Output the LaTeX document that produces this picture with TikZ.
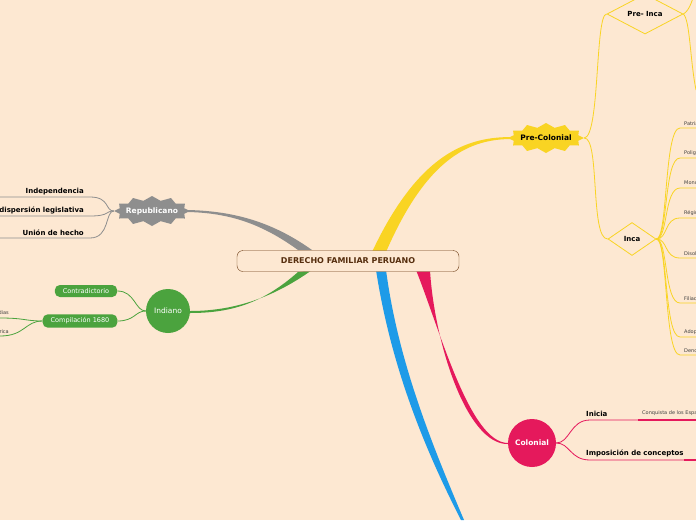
\documentclass[tikz,border=0pt]{standalone}
\usepackage{fontspec}
\setmainfont{DejaVu Sans}
\usetikzlibrary{shapes.geometric}
\definecolor{bg}{HTML}{FDE8D2}
\definecolor{yel}{HTML}{F9D423}
\definecolor{gry}{HTML}{8E8E8E}
\definecolor{grn}{HTML}{4BA33E}
\definecolor{red}{HTML}{E5195C}
\definecolor{blu}{HTML}{1E9BE8}
\definecolor{brn}{HTML}{6B3A12}
\tikzset{x=1pt,y=-1pt,
 lbl/.style={font=\bfseries\fontsize{7}{8}\selectfont,inner sep=1pt},
 sm/.style={font=\fontsize{5}{6}\selectfont,text=black!75,inner sep=1pt,anchor=south west},
 burst/.style={inner sep=0pt,minimum width=76pt,minimum height=30pt,font=\bfseries\fontsize{7.5}{8}\selectfont},
 dia/.style={diamond,draw=yel,fill=bg,line width=0.8pt,aspect=1.9,inner sep=1pt,font=\bfseries\fontsize{7}{8}\selectfont},
 pill/.style={rounded corners=5pt,fill=grn,text=white,font=\fontsize{6.5}{7}\selectfont,minimum height=12pt,inner xsep=8pt}}
\newcommand{\zigburst}[3]{\fill[#1] plot[samples=24,domain=0:23] ({#2+38*(1-0.12*mod(\x,2))*cos(\x*15)},{#3+15*(1-0.3*mod(\x,2))*sin(\x*15)}) -- cycle;}
\begin{document}
\begin{tikzpicture}
\fill[bg] (0,0) rectangle (696,520);
\clip (0,0) rectangle (696,520);
% main branches
\fill[yel] (372,252) .. controls (420,150) and (470,137) .. (512,137) -- (512,139) .. controls (472,139) and (428,155) .. (386,252) -- cycle;
\fill[gry] (312,250) .. controls (270,220) and (230,211) .. (188,210) -- (188,212) .. controls (230,213) and (262,224) .. (298,250) -- cycle;
\fill[grn] (312,270) .. controls (270,300) and (230,311) .. (190,311) -- (190,313) .. controls (230,313) and (262,304) .. (298,272) -- cycle;
\fill[red] (416,270) .. controls (440,330) and (470,443) .. (508,443) -- (508,444) .. controls (466,445) and (434,340) .. (430,270) -- cycle;
\fill[blu] (376,270) .. controls (390,360) and (420,440) .. (461,520) -- (464,520) .. controls (430,440) and (398,360) .. (386,270) -- cycle;
% nodes
\node[draw=brn,fill=bg,rounded corners=6pt,minimum width=222pt,minimum height=21pt,font=\bfseries\fontsize{8}{9}\selectfont,text=brn!80!black] (c) at (348,261) {DERECHO FAMILIAR PERUANO};
\zigburst{yel}{546}{138}
\zigburst{gry}{152}{211}
\node[burst] (pc) at (546,138) {Pre-Colonial};
\node[burst,text=white] (rep) at (152,211) {Republicano};
\node[circle,fill=grn,text=white,minimum size=44pt,inner sep=0pt,font=\fontsize{7.5}{8}\selectfont] (ind) at (168,311) {Indiano};
\node[circle,fill=red,text=white,minimum size=48pt,inner sep=0pt,font=\bfseries\fontsize{7.5}{8}\selectfont] (col) at (532,443) {Colonial};
\node[dia,minimum width=76pt,minimum height=40pt] (pi) at (645,14) {Pre- Inca};
\node[dia,minimum width=48pt,minimum height=33pt] (inca) at (632,239) {Inca};
% pre-colonial children
\draw[yel,line width=0.8pt] (pc.east) .. controls (600,137) and (595,14) .. (pi.west);
\draw[yel,line width=0.8pt] (pc.east) .. controls (600,137) and (590,239) .. (inca.west);
\draw[yel,line width=0.8pt] (pi.east) .. controls (690,10) and (692,0) .. (696,-10);
\draw[yel,line width=0.8pt] (pi.east) .. controls (690,20) and (690,60) .. (696,90);
% inca children
\foreach \y/\t in {128/Patriarcado,158/Poligamia,188/Monogamia,218/Régimen,258/Disolución,303/Filiación,337/Adopción,355/Denominación}{
 \coordinate (e) at (696,\y);
 \draw[yel,line width=0.8pt] (inca.east) .. controls (668,239) and (664,\y) .. (680,\y) -- (e);
 \node[sm] at (683,\y-1) {\t};
}
% republicano children
\foreach \y/\t in {197/Independencia,216/dispersión legislativa,238/Unión de hecho}{
 \coordinate (e) at (0,\y);
 \draw[gry,line width=0.8pt] (rep.west) .. controls (105,211) and (110,\y) .. (90,\y) -- (e);
 \node[lbl,anchor=south east] at (85,\y-1) {\t};
}
% indiano children
\node[pill] (con) at (86,291) {Contradictorio};
\node[pill] (comp) at (80,321) {Compilación 1680};
\draw[grn,line width=0.8pt] (ind.west) .. controls (135,311) and (135,291) .. (con.east);
\draw[grn,line width=0.8pt] (ind.west) .. controls (135,311) and (135,321) .. (comp.east);
\coordinate (l1) at (0,318); \coordinate (l2) at (0,336);
\draw[grn,line width=0.8pt] (comp.west) .. controls (25,321) and (25,318) .. (l1);
\draw[grn,line width=0.8pt] (comp.west) .. controls (25,321) and (25,336) .. (l2);
\node[sm,anchor=south east] at (10,317) {Leyes de Indias};
\node[sm,anchor=south east] at (10,335) {América};
% colonial children
\coordinate (i1) at (696,420); \coordinate (i2) at (696,460);
\draw[red,line width=0.8pt] (col.east) .. controls (570,443) and (570,420) .. (590,420) -- (i1);
\draw[red,line width=0.8pt] (col.east) .. controls (570,443) and (570,460) .. (590,460) -- (i2);
\draw[red,line width=1.5pt] (638,420) -- (696,420);
\draw[red,line width=1.5pt] (684,460) -- (696,460);
\node[lbl,anchor=south west] at (585,418) {Inicia};
\node[sm] at (641,417) {Conquista de los Españoles};
\node[lbl,anchor=south west] at (585,458) {Imposición de conceptos};
\end{tikzpicture}
\end{document}
